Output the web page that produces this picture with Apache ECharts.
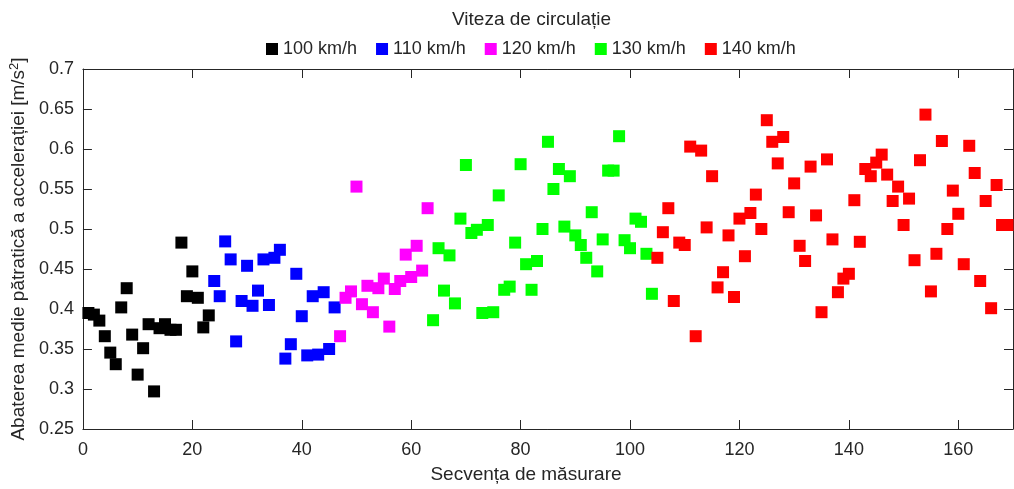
<!DOCTYPE html>
<html>
<head>
<meta charset="utf-8">
<script src="https://cdn.jsdelivr.net/npm/echarts@6/dist/echarts.min.js"></script>
<style>
  html, body { margin: 0; padding: 0; background: #ffffff; }
  #chart { width: 1014px; height: 489px; }
</style>
</head>
<body>
<div id="chart"></div>
<script>
// Speed groups shown in the legend
const speedLabels = ['100 km/h', '110 km/h', '120 km/h', '130 km/h', '140 km/h'];
const speedColors = ['#000000', '#0000ff', '#ff00ff', '#00ff00', '#ff0000'];

// First measurement number of each speed group
const firstIndex = [1, 24, 47, 64, 105];

// RMS acceleration per measurement [m/s^2]
const rms100 = [0.395, 0.393, 0.3855, 0.366, 0.3455, 0.331, 0.402, 0.426, 0.368, 0.318,
  0.351, 0.381, 0.297, 0.376, 0.381, 0.374, 0.374, 0.483, 0.416, 0.447,
  0.414, 0.377, 0.392];
const rms110 = [0.435, 0.416, 0.4845, 0.462, 0.3595, 0.410, 0.454, 0.404, 0.423, 0.462,
  0.405, 0.464, 0.474, 0.338, 0.356, 0.444, 0.391, 0.342, 0.416, 0.343,
  0.421, 0.350, 0.402];
const rms120 = [0.366, 0.414, 0.422, 0.553, 0.406, 0.429, 0.396, 0.426, 0.438, 0.378,
  0.425, 0.435, 0.468, 0.440, 0.479, 0.448, 0.526];
const rms130 = [0.386, 0.476, 0.423, 0.467, 0.407, 0.513, 0.580, 0.495, 0.499, 0.395,
  0.505, 0.396, 0.542, 0.424, 0.428, 0.483, 0.581, 0.456, 0.424, 0.460,
  0.500, 0.609, 0.550, 0.575, 0.503, 0.566, 0.492, 0.480, 0.464, 0.521,
  0.447, 0.487, 0.573, 0.573, 0.616, 0.486, 0.476, 0.513, 0.509, 0.469,
  0.419];
const rms140 = [0.464, 0.496, 0.526, 0.410, 0.483, 0.480, 0.603, 0.366, 0.598, 0.502,
  0.566, 0.427, 0.446, 0.492, 0.415, 0.513, 0.466, 0.520, 0.543, 0.500,
  0.636, 0.609, 0.582, 0.615, 0.521, 0.557, 0.479, 0.460, 0.578, 0.517,
  0.396, 0.587, 0.487, 0.421, 0.438, 0.444, 0.536, 0.484, 0.575, 0.566,
  0.583, 0.593, 0.568, 0.535, 0.553, 0.505, 0.538, 0.461, 0.586, 0.643,
  0.422, 0.469, 0.610, 0.500, 0.548, 0.519, 0.456, 0.604, 0.570, 0.435,
  0.535, 0.401, 0.555, 0.505, 0.505];

// Axis ranges and ticks
const xRange = [0, 170], xStep = 20;
const yRange = [0.25, 0.7], yStep = 0.05;

const groups = [rms100, rms110, rms120, rms130, rms140];

const FONT = "'Liberation Sans', Arial, sans-serif";
const INK = '#262626';

const series = groups.map((vals, g) => ({
  name: speedLabels[g],
  type: 'scatter',
  symbol: 'rect',
  symbolSize: 12,
  clip: false,
  itemStyle: { color: speedColors[g], opacity: 1 },
  data: vals.map((v, i) => [firstIndex[g] + i, v])
}));

const trimNum = v => String(parseFloat(v.toFixed(2)));

const chart = echarts.init(document.getElementById('chart'), null, { renderer: 'canvas' });
chart.setOption({
  animation: false,
  backgroundColor: '#ffffff',
  textStyle: { fontFamily: FONT, color: INK },
  title: {
    text: 'Viteza de circulație',
    left: 452, top: 10, padding: 0,
    textStyle: { fontFamily: FONT, fontSize: 19, fontWeight: 'normal', color: INK }
  },
  legend: {
    data: speedLabels,
    left: 266, top: 40, padding: 0,
    icon: 'rect',
    itemWidth: 12, itemHeight: 12,
    itemGap: 19,
    textStyle: { fontFamily: FONT, fontSize: 18, color: INK }
  },
  grid: { left: 80, right: 1, top: 69, bottom: 52 },
  xAxis: [{
    type: 'value', min: xRange[0], max: xRange[1], interval: xStep,
    position: 'bottom',
    name: 'Secvența de măsurare', nameLocation: 'middle', nameGap: 36,
    nameTextStyle: { fontFamily: FONT, fontSize: 19, color: INK, padding: [0, 44, 0, 0] },
    axisLine: { show: true, onZero: false, lineStyle: { color: INK, width: 1 } },
    axisTick: { show: true, inside: true, length: 9, lineStyle: { color: INK } },
    axisLabel: { fontFamily: FONT, fontSize: 18, color: INK, margin: 12, showMaxLabel: false,
      formatter: v => (v % xStep === 0 ? String(v) : '') },
    splitLine: { show: false }
  }, {
    type: 'value', min: xRange[0], max: xRange[1], interval: xStep,
    position: 'top',
    axisLine: { show: true, onZero: false, lineStyle: { color: INK, width: 1 } },
    axisTick: { show: true, inside: true, length: 9, lineStyle: { color: INK } },
    axisLabel: { show: false },
    splitLine: { show: false }
  }],
  yAxis: [{
    type: 'value', min: yRange[0], max: yRange[1], interval: yStep,
    position: 'left',
    name: 'Abaterea medie pătratică a accelerației [m/s{sup|2}]',
    nameLocation: 'middle', nameGap: 42, nameRotate: 90,
    nameTextStyle: {
      fontFamily: FONT, fontSize: 19, color: INK,
      rich: { sup: { fontFamily: FONT, fontSize: 13, color: INK, verticalAlign: 'bottom', padding: [0, 0, 8, 0] } }
    },
    axisLine: { show: true, onZero: false, lineStyle: { color: INK, width: 1 } },
    axisTick: { show: true, inside: true, length: 9, lineStyle: { color: INK } },
    axisLabel: { fontFamily: FONT, fontSize: 18, color: INK, margin: 9, formatter: trimNum },
    splitLine: { show: false }
  }, {
    type: 'value', min: yRange[0], max: yRange[1], interval: yStep,
    position: 'right',
    axisLine: { show: true, onZero: false, lineStyle: { color: INK, width: 1 } },
    axisTick: { show: true, inside: true, length: 9, lineStyle: { color: INK } },
    axisLabel: { show: false },
    splitLine: { show: false }
  }],
  series: series
});
</script>
</body>
</html>
